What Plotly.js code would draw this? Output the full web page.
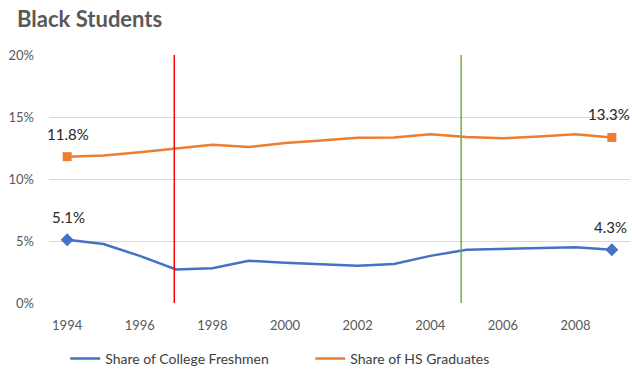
<!DOCTYPE html>
<html><head><meta charset="utf-8">
<script src="https://cdn.plot.ly/plotly-3.0.1.min.js"></script>
<style>body{margin:0;background:#fff}#chart{width:632px;height:377px}</style>
</head><body><div id="chart"></div>
<script>
const years = [1994,1995,1996,1997,1998,1999,2000,2001,2002,2003,2004,2005,2006,2007,2008,2009];
const freshmen = [5.1,4.75,3.8,2.7,2.8,3.4,3.25,3.1,3.0,3.15,3.8,4.3,4.37,4.45,4.5,4.3];
const hsGrads = [11.8,11.9,12.15,12.47,12.77,12.58,12.9,13.1,13.33,13.35,13.6,13.38,13.28,13.42,13.6,13.35];
const seriesNames = ['Share of College Freshmen','Share of HS Graduates'];
const eventYears = [1996.95, 2004.85];
const eventColors = ['#FF0000','#70AD47'];
const xTicks = [1994,1996,1998,2000,2002,2004,2006,2008];
const yTicks = [0,5,10,15,20];
const yTickText = ['0%','5%','10%','15%','20%'];

const blue = '#4472C4', orange = '#ED7D31';
const last = years.length - 1;
const ends = [years[0], years[last]];
const FONT = 'Lato, "Open Sans", sans-serif';

const traces = [
  {x: years, y: freshmen, name: seriesNames[0], mode: 'lines', line: {color: blue, width: 2.5}},
  {x: years, y: hsGrads, name: seriesNames[1], mode: 'lines', line: {color: orange, width: 2.5}},
  {x: ends, y: [freshmen[0], freshmen[last]], mode: 'markers', showlegend: false, hoverinfo: 'skip',
   marker: {symbol: 'diamond', size: 10, color: blue}},
  {x: ends, y: [hsGrads[0], hsGrads[last]], mode: 'markers', showlegend: false, hoverinfo: 'skip',
   marker: {symbol: 'square', size: 9, color: orange}}
];

const fmt = v => v.toFixed(1) + '%';
const lblFont = {family: FONT, size: 15, color: '#262626'};
const annotations = [
  {x: years[0], y: freshmen[0], text: fmt(freshmen[0]), xshift: 1, yshift: 23},
  {x: years[0], y: hsGrads[0], text: fmt(hsGrads[0]), xshift: 1, yshift: 23},
  {x: years[last], y: freshmen[last], text: fmt(freshmen[last]), xshift: -1, yshift: 23},
  {x: years[last], y: hsGrads[last], text: fmt(hsGrads[last]), xshift: -3, yshift: 23}
].map(a => Object.assign(a, {xref: 'x', yref: 'y', showarrow: false, font: lblFont}));

const shapes = eventYears.map((yr, i) => ({
  type: 'line', xref: 'x', yref: 'y', x0: yr, x1: yr, y0: yTicks[0], y1: yTicks[yTicks.length - 1],
  line: {color: eventColors[i], width: 1.5}
}));

const layout = {
  width: 632, height: 377,
  margin: {l: 49, r: 2, t: 55, b: 74},
  paper_bgcolor: '#fff', plot_bgcolor: '#fff',
  font: {family: FONT, color: '#595959', size: 13},
  title: {text: '<b>Black Students</b>', x: 0.027, xanchor: 'left', y: 0.95, yanchor: 'middle',
          font: {size: 22, color: '#595959', family: FONT}},
  xaxis: {range: [1993.5, 2009.5], tickvals: xTicks, showgrid: false, zeroline: false,
          showline: false, ticks: '', ticklabelstandoff: 13, tickfont: {size: 13, color: '#595959'}},
  yaxis: {range: [0, 20], tickvals: yTicks, ticktext: yTickText, showgrid: true, gridcolor: '#D9D9D9',
          gridwidth: 1, zeroline: false, showline: false, ticks: '', ticklabelstandoff: 14,
          tickfont: {size: 13, color: '#595959'}},
  legend: {orientation: 'h', x: 0.028, xanchor: 'left', y: -0.225, yanchor: 'middle',
           font: {size: 14, color: '#404040'}, itemwidth: 30, entrywidth: 200, traceorder: 'normal'},
  annotations: annotations,
  shapes: shapes,
  showlegend: true
};

Plotly.newPlot('chart', traces, layout, {displayModeBar: false, staticPlot: true});
</script></body></html>
